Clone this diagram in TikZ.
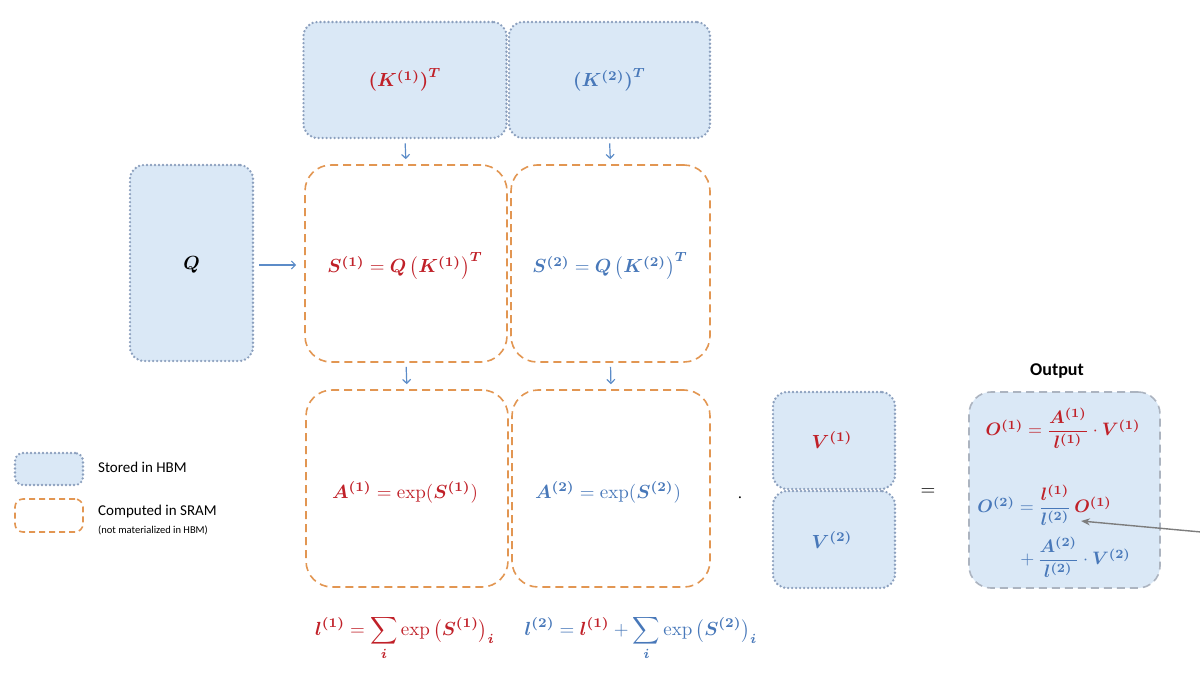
\documentclass[tikz,border=0pt]{standalone}
\usepackage{amsmath,bm}
\usepackage{fontspec}
\newfontfamily\carlito{Carlito}
\usetikzlibrary{arrows.meta}
\definecolor{fred}{RGB}{192,32,40}
\definecolor{fblue}{RGB}{72,120,185}
\definecolor{hbmfill}{RGB}{218,232,246}
\definecolor{hbmline}{RGB}{140,160,190}
\definecolor{sramline}{RGB}{226,150,82}
\definecolor{arrblue}{RGB}{92,140,200}
\definecolor{outline}{RGB}{172,180,192}
\definecolor{garrow}{RGB}{125,125,125}
\tikzset{
  hbm/.style={draw=hbmline, fill=hbmfill, line width=2.6pt, dash pattern=on 0pt off 4pt, line cap=round, rounded corners=14pt, inner sep=0pt},
  sram/.style={draw=sramline, line width=1.6pt, dash pattern=on 8pt off 5pt, rounded corners=26pt, inner sep=0pt},
  outbox/.style={draw=outline, fill=hbmfill, line width=1.6pt, dash pattern=on 8pt off 5pt, rounded corners=22pt, inner sep=0pt},
  flow/.style={draw=arrblue, line width=1.2pt, -{Straight Barb[length=4pt,width=8pt]}},
  bigmath/.style={scale=1.9, transform shape, inner sep=0pt},
  outmath/.style={scale=1.8, transform shape, inner sep=0pt},
  legtext/.style={font=\carlito\fontsize{15}{18}\selectfont, anchor=west, inner sep=0pt},
}
\begin{document}
\begin{tikzpicture}[x=1pt,y=-1pt]
\useasboundingbox (0,0) rectangle (1200,675);
% K boxes
\node[hbm, minimum width=203pt, minimum height=116pt] (K1) at (405,80) {};
\node[hbm, minimum width=201pt, minimum height=116pt] (K2) at (609.5,80) {};
\node[bigmath, text=fred] (K1t) at (405,80) {$\bm{(K^{(1)})^T}$};
\node[bigmath, text=fblue] (K2t) at (609.5,80) {$\bm{(K^{(2)})^T}$};
% Q
\node[hbm, minimum width=123pt, minimum height=196pt] (Q) at (191.5,263) {};
\node[bigmath] (Qt) at (191.5,265) {$\bm{Q}$};
% S boxes
\node[sram, minimum width=202pt, minimum height=197pt] (S1) at (406,263.5) {};
\node[sram, minimum width=199pt, minimum height=197pt] (S2) at (610.5,263.5) {};
\node[bigmath, text=fred] (S1t) at (405,266) {$\bm{S^{(1)}} = \bm{Q}\,\big(\bm{K^{(1)}}\big)^{\bm{T}}$};
\node[bigmath, text=fblue] (S2t) at (610,266) {$\bm{S^{(2)}} = \bm{Q}\,\big(\bm{K^{(2)}}\big)^{\bm{T}}$};
% A boxes
\node[sram, minimum width=202pt, minimum height=197pt] (A1) at (407,488.5) {};
\node[sram, minimum width=198pt, minimum height=197pt] (A2) at (611,488.5) {};
\node[bigmath, text=fred] (A1t) at (405,492) {$\bm{A^{(1)}} = \exp(\bm{S^{(1)}})$};
\node[bigmath, text=fblue] (A2t) at (608,492) {$\bm{A^{(2)}} = \exp(\bm{S^{(2)}})$};
% dot and V
\node[bigmath] (dot) at (740,498) {$\cdot$};
\node[hbm, minimum width=122pt, minimum height=97pt] (V1) at (834,440.5) {};
\node[hbm, minimum width=122pt, minimum height=97pt] (V2) at (834,539.5) {};
\node[bigmath, text=fred] (V1t) at (832,440) {$\bm{V^{(1)}}$};
\node[bigmath, text=fblue] (V2t) at (832,540) {$\bm{V^{(2)}}$};
\node[bigmath] (eq) at (928,492) {$=$};
% Output
\node[font=\carlito\bfseries\fontsize{18}{21}\selectfont] (outlbl) at (1057,371) {Output};
\node[outbox, minimum width=191pt, minimum height=196pt] (Out) at (1064.5,490) {};
\node[outmath, text=fred] (O1) at (1063,428) {$\bm{O^{(1)}} = \dfrac{\bm{A^{(1)}}}{\bm{l^{(1)}}}\cdot \bm{V^{(1)}}$};
\node[outmath, text=fblue, anchor=west] (O2a) at (977,505) {$\bm{O^{(2)}} = \dfrac{\textcolor{fred}{\bm{l^{(1)}}}}{\bm{l^{(2)}}}\,\textcolor{fred}{\bm{O^{(1)}}}$};
\node[outmath, text=fblue, anchor=west] (O2b) at (1020,557) {$+\,\dfrac{\bm{A^{(2)}}}{\bm{l^{(2)}}}\cdot \bm{V^{(2)}}$};
% bottom formulas
\node[bigmath, text=fred] (L1) at (405,638) {$\displaystyle \bm{l^{(1)}} = \sum_{\bm{i}} \exp\big(\bm{S^{(1)}}\big)_{\bm{i}}$};
\node[bigmath, text=fblue] (L2) at (641,638) {$\displaystyle \bm{l^{(2)}} = \textcolor{fred}{\bm{l^{(1)}}} + \sum_{\bm{i}} \exp\big(\bm{S^{(2)}}\big)_{\bm{i}}$};
% legend
\node[hbm, minimum width=68pt, minimum height=32pt, rounded corners=8pt] (LegH) at (49,469) {};
\node[legtext] (LegHt) at (98,467) {Stored in HBM};
\node[sram, minimum width=68pt, minimum height=33pt, rounded corners=8pt, dash pattern=on 6pt off 4pt] (LegS) at (49,515.5) {};
\node[legtext] (LegSt) at (98,511) {Computed in SRAM};
\node[legtext, font=\carlito\fontsize{10.5}{12}\selectfont] (LegSt2) at (98,530) {(not materialized in HBM)};
% arrows
\draw[flow, shorten <=4pt, shorten >=5pt] (K1.south) -- (S1.north);
\draw[flow, shorten <=4pt, shorten >=5pt] (K2.south) -- (S2.north);
\draw[flow, shorten <=4pt, shorten >=5pt] (S1.south) -- (A1.south |- A1.north);
\draw[flow, shorten <=4pt, shorten >=5pt] (S2.south) -- (A2.south |- A2.north);
\draw[flow, shorten <=5pt, shorten >=8pt] (Q.east |- Qt) -- (S1.west |- Qt);
\coordinate (gstart) at (1212,533);
\coordinate (gend) at (1081,521);
\draw[draw=garrow, line width=1.4pt, -{Stealth[length=9pt,width=7pt]}] (gstart) -- (gend);
\end{tikzpicture}
\end{document}
